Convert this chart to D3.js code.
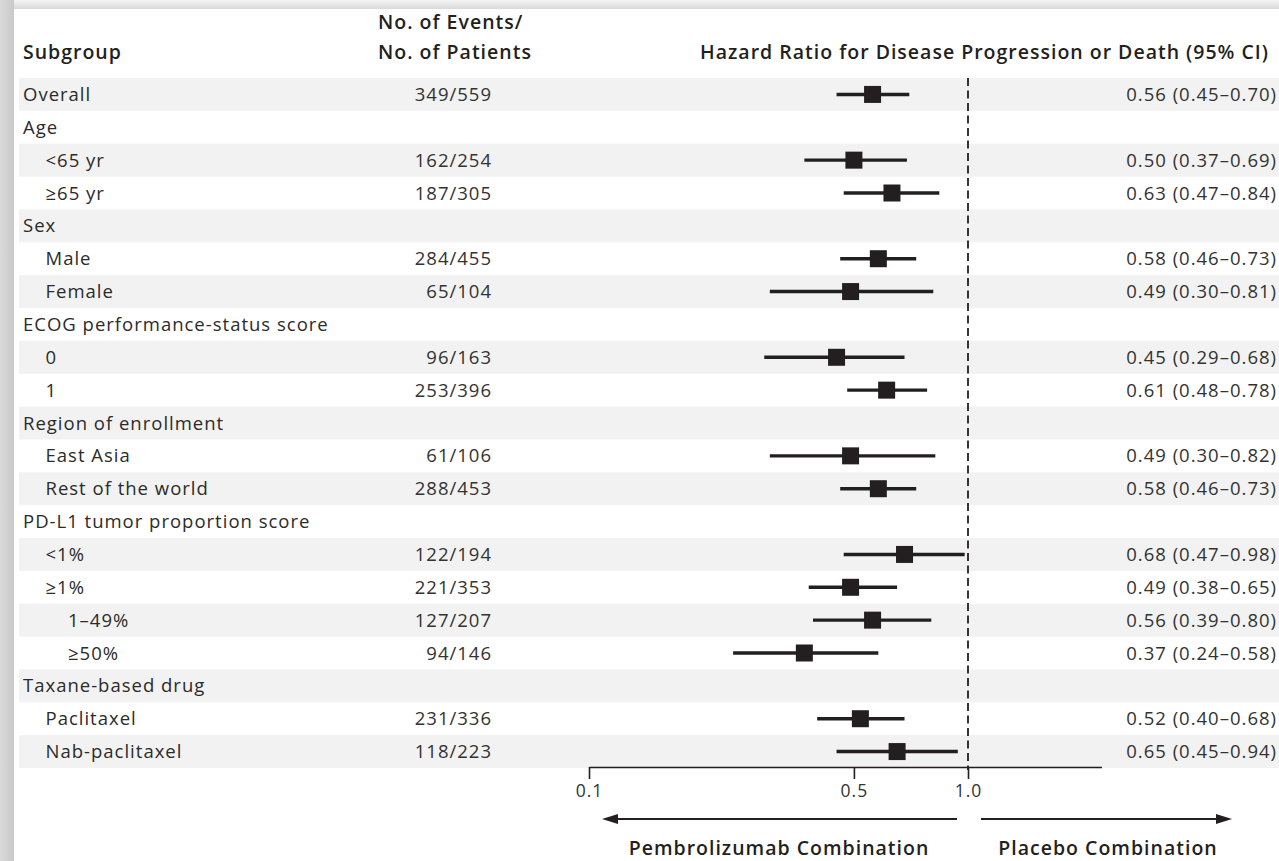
<!DOCTYPE html>
<html>
<head>
<meta charset="utf-8">
<script src="https://cdn.jsdelivr.net/npm/d3@7"></script>
<style>
  html, body { margin: 0; padding: 0; background: #fff; }
  svg { display: block; }
  text { font-family: "Open Sans", Lato, sans-serif; letter-spacing: 1px; }
</style>
</head>
<body>
<script>
// Subgroup rows of the forest plot
const subgroups = ["Overall", "Age", "<65 yr", "\u226565 yr", "Sex", "Male", "Female",
  "ECOG performance-status score", "0", "1", "Region of enrollment", "East Asia",
  "Rest of the world", "PD-L1 tumor proportion score", "<1%", "\u22651%", "1\u201349%",
  "\u226550%", "Taxane-based drug", "Paclitaxel", "Nab-paclitaxel"];
const indentLevel = [0, 0, 1, 1, 0, 1, 1, 0, 1, 1, 0, 1, 1, 0, 1, 1, 2, 2, 0, 1, 1];
const eventsPatients = ["349/559", null, "162/254", "187/305", null, "284/455", "65/104",
  null, "96/163", "253/396", null, "61/106", "288/453", null, "122/194", "221/353",
  "127/207", "94/146", null, "231/336", "118/223"];
const hazardRatio = [0.56, null, 0.50, 0.63, null, 0.58, 0.49, null, 0.45, 0.61, null,
  0.49, 0.58, null, 0.68, 0.49, 0.56, 0.37, null, 0.52, 0.65];
const ciLower = [0.45, null, 0.37, 0.47, null, 0.46, 0.30, null, 0.29, 0.48, null,
  0.30, 0.46, null, 0.47, 0.38, 0.39, 0.24, null, 0.40, 0.45];
const ciUpper = [0.70, null, 0.69, 0.84, null, 0.73, 0.81, null, 0.68, 0.78, null,
  0.82, 0.73, null, 0.98, 0.65, 0.80, 0.58, null, 0.68, 0.94];
const tickValues = [0.1, 0.5, 1.0];
const tickLabels = ["0.1", "0.5", "1.0"];
const axisDomain = [0.1, 2.25];

const W = 1279, H = 861;
const ink = "#231f20";
const svg = d3.select("body").append("svg").attr("width", W).attr("height", H);

// page frame shadow along top and left edges
const defs = svg.append("defs");
const gTop = defs.append("linearGradient").attr("id", "shTop").attr("x1", 0).attr("y1", 0).attr("x2", 0).attr("y2", 1);
gTop.append("stop").attr("offset", 0).attr("stop-color", "#f4f4f4");
gTop.append("stop").attr("offset", 1).attr("stop-color", "#d9d9d9");
const gLeft = defs.append("linearGradient").attr("id", "shLeft").attr("x1", 0).attr("y1", 0).attr("x2", 1).attr("y2", 0);
gLeft.append("stop").attr("offset", 0).attr("stop-color", "#dadada");
gLeft.append("stop").attr("offset", 1).attr("stop-color", "#c9c9c9");
svg.append("rect").attr("x", 0).attr("y", 0).attr("width", W).attr("height", 9).attr("fill", "url(#shTop)");
svg.append("rect").attr("x", 0).attr("y", 0).attr("width", 14).attr("height", H).attr("fill", "url(#shLeft)");

// row layout
const rowTop = 78, rowH = 690 / subgroups.length;
const y = d3.scaleBand().domain(d3.range(subgroups.length)).range([rowTop, rowTop + rowH * subgroups.length]).padding(0);
const x = d3.scaleLog().domain(axisDomain).range([589, 589 + 379 * Math.log10(axisDomain[1] / axisDomain[0])]);

// alternating row bands
svg.append("g").selectAll("rect")
  .data(d3.range(subgroups.length).filter(i => i % 2 === 0))
  .join("rect")
  .attr("x", 19).attr("y", i => y(i))
  .attr("width", W - 19).attr("height", y.bandwidth())
  .attr("fill", "#f2f2f2");

// column headers
const hdr = svg.append("g").attr("fill", ink).attr("font-weight", 600).attr("font-size", 19.5);
hdr.append("text").attr("x", 23).attr("y", 59).text("Subgroup");
hdr.append("text").attr("x", 378).attr("y", 29).text("No. of Events/");
hdr.append("text").attr("x", 378).attr("y", 59).text("No. of Patients");
hdr.append("text").attr("x", 1269).attr("y", 59).attr("text-anchor", "end")
  .text("Hazard Ratio for Disease Progression or Death (95% CI)");

// subgroup labels and counts
const rows = svg.append("g").attr("font-size", 18.5);
rows.selectAll("text.lab").data(subgroups).join("text")
  .attr("class", "lab")
  .attr("x", (d, i) => 23 + indentLevel[i] * 22.5)
  .attr("y", (d, i) => y(i) + y.bandwidth() / 2 + 6.5)
  .attr("fill", "#2b2b2b")
  .text(d => d);
rows.selectAll("text.ev").data(eventsPatients).join("text")
  .attr("class", "ev")
  .attr("x", 492).attr("text-anchor", "end")
  .attr("y", (d, i) => y(i) + y.bandwidth() / 2 + 6.5)
  .attr("fill", "#333")
  .text(d => d || "");

// reference line at hazard ratio 1.0
svg.append("line")
  .attr("x1", x(1)).attr("x2", x(1))
  .attr("y1", rowTop).attr("y2", 770)
  .attr("stroke", ink).attr("stroke-width", 1.8).attr("stroke-dasharray", "8,4.5");

// confidence intervals and point estimates
const idx = d3.range(subgroups.length).filter(i => hazardRatio[i] != null);
const marks = svg.append("g");
marks.selectAll("line").data(idx).join("line")
  .attr("x1", i => x(ciLower[i])).attr("x2", i => x(ciUpper[i]))
  .attr("y1", i => y(i) + y.bandwidth() / 2).attr("y2", i => y(i) + y.bandwidth() / 2)
  .attr("stroke", ink).attr("stroke-width", 3.4);
const sq = 17;
marks.selectAll("rect").data(idx).join("rect")
  .attr("x", i => x(hazardRatio[i]) - sq / 2)
  .attr("y", i => y(i) + y.bandwidth() / 2 - sq / 2)
  .attr("width", sq).attr("height", sq)
  .attr("fill", ink);

// hazard ratio text
const fmt = d3.format(".2f");
rows.selectAll("text.hr").data(idx).join("text")
  .attr("class", "hr")
  .attr("x", 1277).attr("text-anchor", "end")
  .attr("y", i => y(i) + y.bandwidth() / 2 + 6.5)
  .attr("fill", "#333")
  .text(i => `${fmt(hazardRatio[i])} (${fmt(ciLower[i])}\u2013${fmt(ciUpper[i])})`);

// log axis
const axis = d3.axisBottom(x).tickValues(tickValues)
  .tickFormat((d, i) => tickLabels[i]).tickSizeInner(12).tickSizeOuter(0).tickPadding(6);
const gAxis = svg.append("g").attr("transform", "translate(0,767)").call(axis);
gAxis.select(".domain").attr("stroke", ink).attr("stroke-width", 1.6);
gAxis.selectAll(".tick line").attr("stroke", ink).attr("stroke-width", 1.6);
gAxis.selectAll(".tick text").attr("fill", "#333").attr("font-size", 17.5)
  .attr("font-family", "'Open Sans', sans-serif");

// direction arrows
const arrowY = 819;
const arrow = (x1, x2) => {
  const dir = Math.sign(x2 - x1), head = 16, half = 5;
  svg.append("line").attr("x1", x1).attr("x2", x2 - dir * head + dir * 1).attr("y1", arrowY).attr("y2", arrowY)
    .attr("stroke", ink).attr("stroke-width", 2);
  svg.append("path")
    .attr("d", `M${x2},${arrowY}L${x2 - dir * head},${arrowY - half}L${x2 - dir * head},${arrowY + half}Z`)
    .attr("fill", ink);
};
arrow(x(1) - 11, x(0.1) + 13);
arrow(x(1) + 13, 1232);

const foot = svg.append("g").attr("fill", ink).attr("font-weight", 600).attr("font-size", 19.5)
  .attr("text-anchor", "middle");
foot.append("text").attr("x", 779).attr("y", 855).text("Pembrolizumab Combination");
foot.append("text").attr("x", 1108).attr("y", 855).text("Placebo Combination");
</script>
</body>
</html>
